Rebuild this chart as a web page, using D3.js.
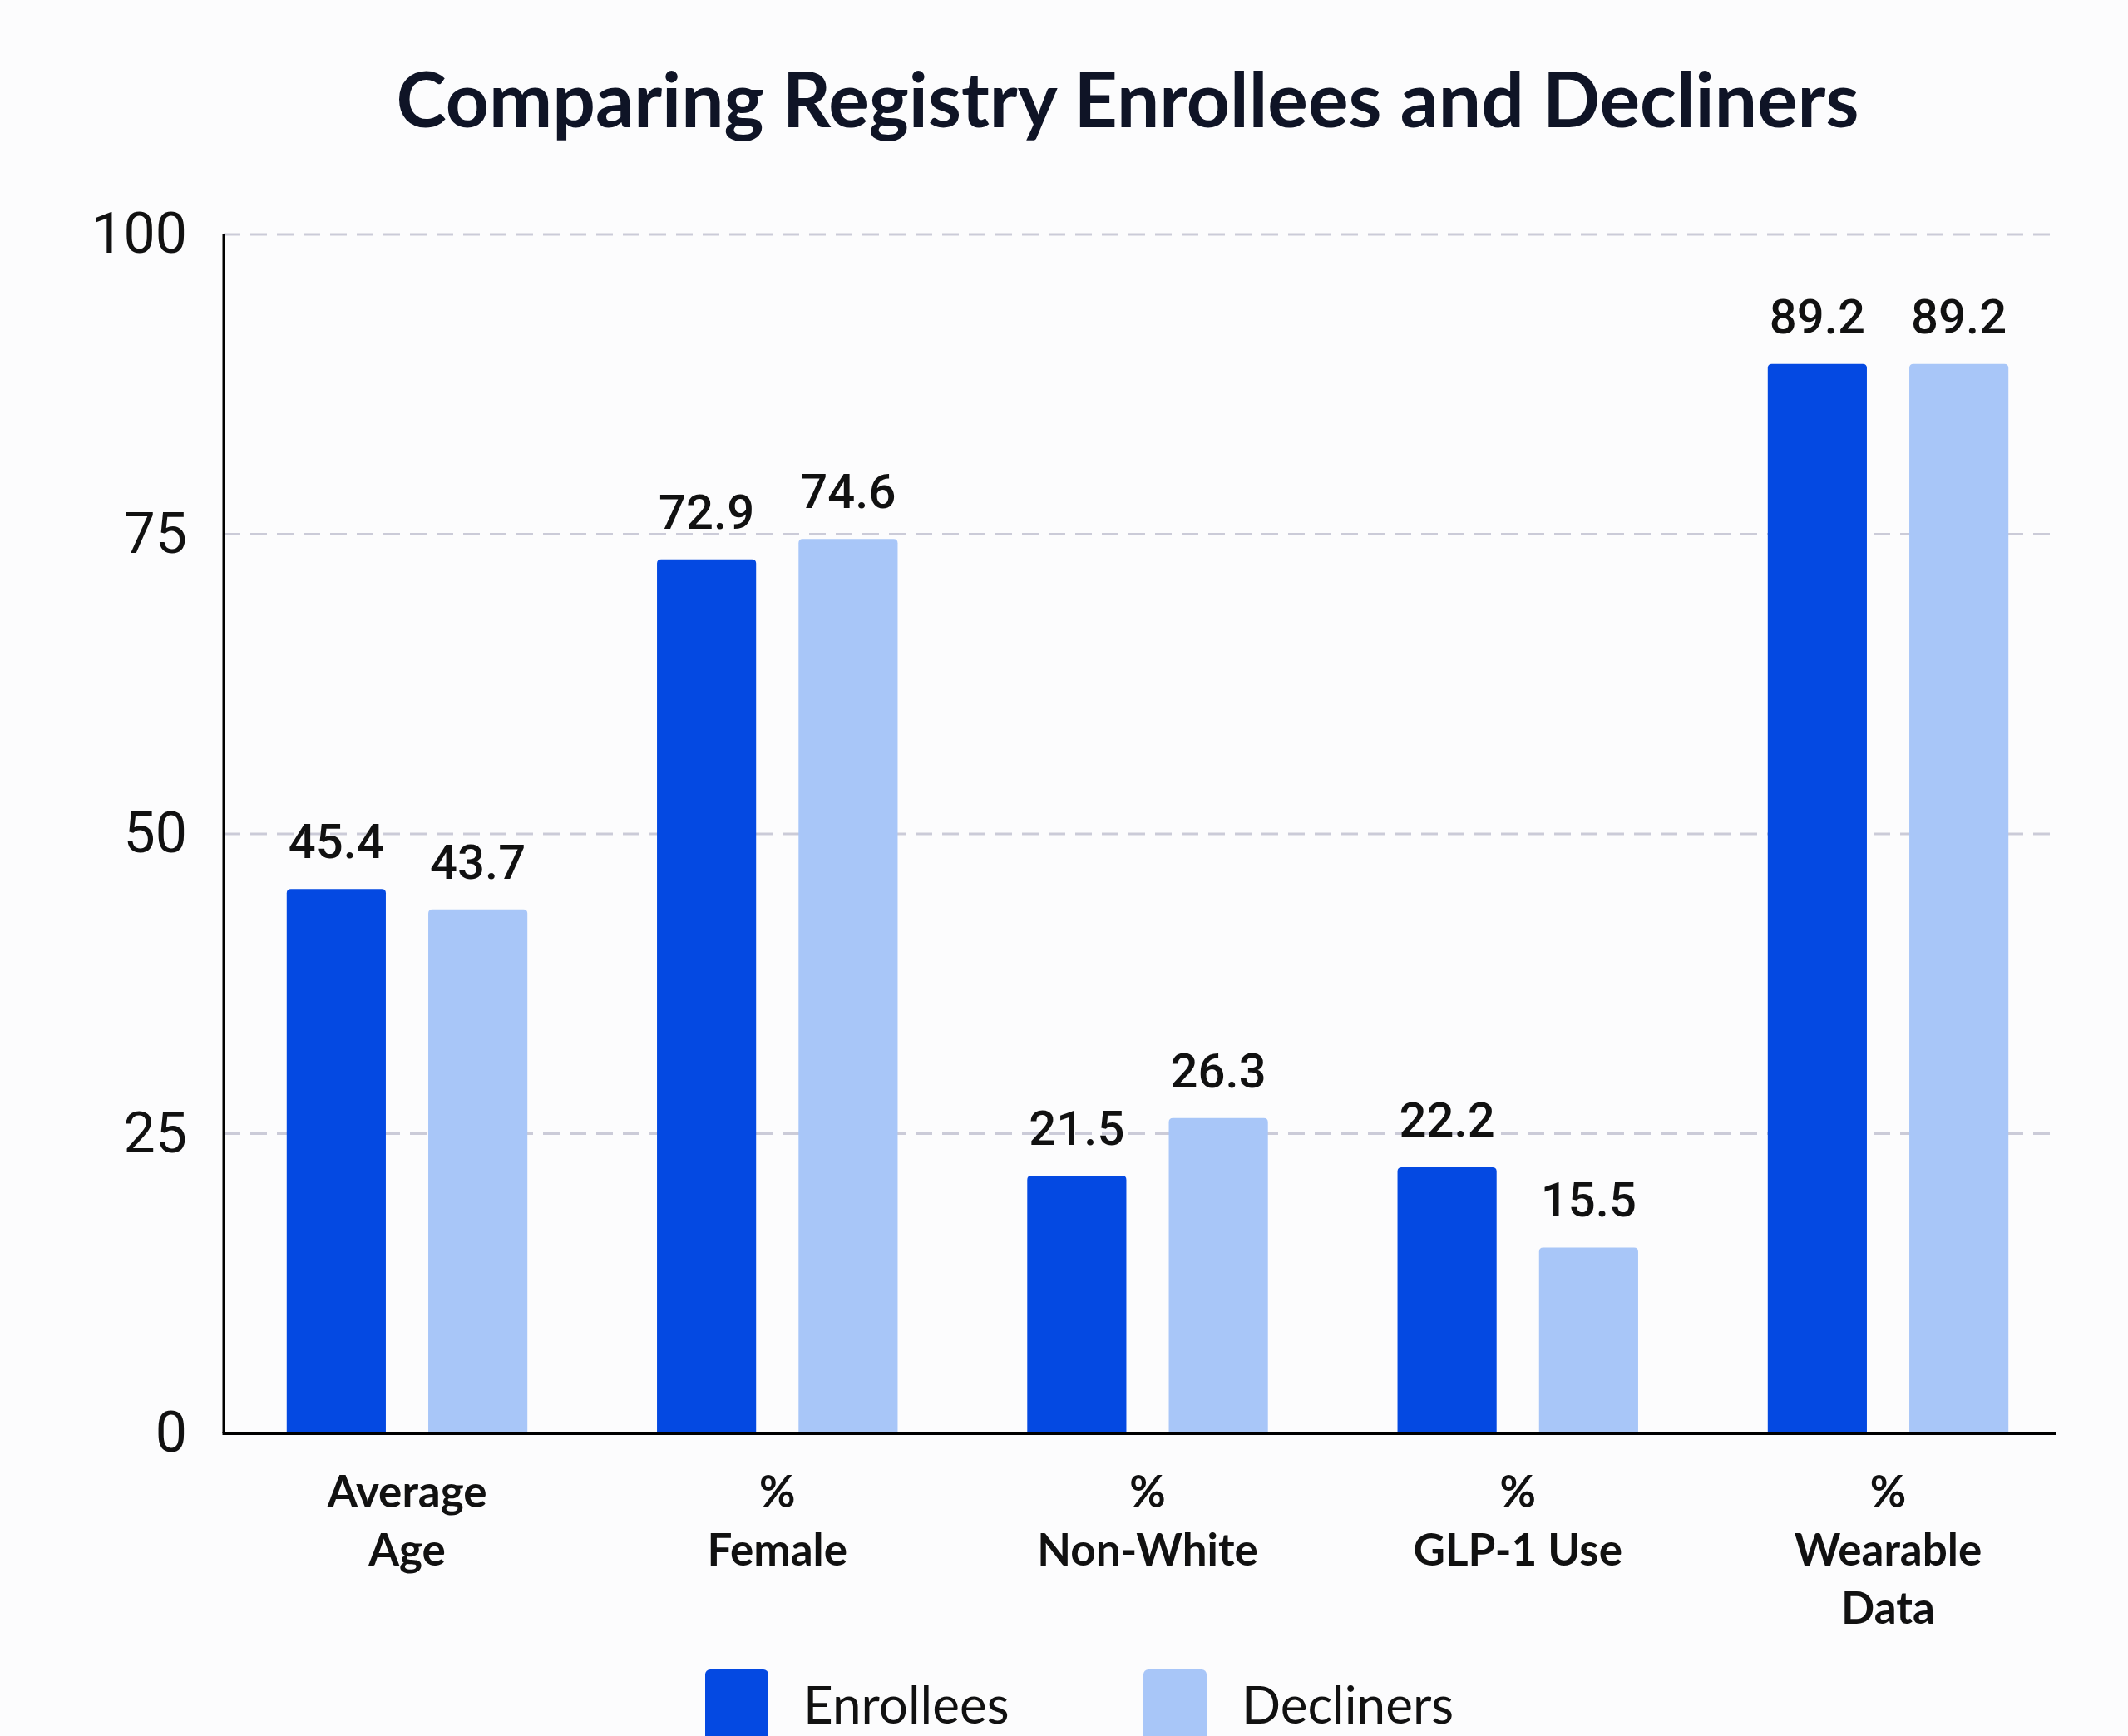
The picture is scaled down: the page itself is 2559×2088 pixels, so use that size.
<!DOCTYPE html>
<html>
<head>
<meta charset="utf-8">
<script src="https://cdn.jsdelivr.net/npm/d3@7"></script>
<style>
  body { margin: 0; background: #fcfcfd; }
  svg { display: block; }
</style>
</head>
<body>
<svg id="chart" width="2559" height="2088"></svg>
<script>
// chart values
var categories = ['Average Age', '% Female', '% Non-White', '% GLP-1 Use', '% Wearable Data'];
var categoryLines = [['Average', 'Age'], ['%', 'Female'], ['%', 'Non-White'], ['%', 'GLP-1 Use'], ['%', 'Wearable', 'Data']];
var seriesNames = ['Enrollees', 'Decliners'];
var enrollees = [45.4, 72.9, 21.5, 22.2, 89.2];
var decliners = [43.7, 74.6, 26.3, 15.5, 89.2];
var yTicks = [0, 25, 50, 75, 100];

var colors = {enrollees: '#0449e2', decliners: '#a8c6f8', grid: '#cbcbd8', ink: '#111111', title: '#0f1426'};

var svg = d3.select('#chart');
var plot = {l: 269, r: 2473, t: 282, b: 1724};

var rows = categories.map(function(c, i) {
    return {cat: c, lines: categoryLines[i], values: [enrollees[i], decliners[i]]};
});

var x0 = d3.scaleBand()
    .domain(categories)
    .range([278, 2482])
    .paddingInner(0.35)
    .paddingOuter(0.15);

var x1 = d3.scaleBand()
    .domain(seriesNames)
    .range([0, x0.bandwidth()])
    .paddingInner(0.3);

var y = d3.scaleLinear()
    .domain([0, 100])
    .range([plot.b, plot.t]);

var color = d3.scaleOrdinal()
    .domain(seriesNames)
    .range([colors.enrollees, colors.decliners]);

svg.append('rect')
    .attr('width', 2559).attr('height', 2088)
    .attr('fill', '#fcfcfd');

// title
svg.append('text')
    .attr('x', 1356)
    .attr('y', 153)
    .attr('text-anchor', 'middle')
    .style('font-family', 'Lato')
    .style('font-weight', 700)
    .style('font-size', '91px')
    .style('fill', colors.title)
    .text('Comparing Registry Enrollees and Decliners');

// gridlines
svg.append('g')
    .selectAll('line')
    .data(yTicks.filter(function(t) { return t > 0; }))
    .enter().append('line')
    .attr('x1', plot.l)
    .attr('x2', plot.r)
    .attr('y1', function(d) { return y(d); })
    .attr('y2', function(d) { return y(d); })
    .attr('stroke', colors.grid)
    .attr('stroke-width', 3)
    .attr('stroke-dasharray', '20,12');

// y axis
var yAxis = svg.append('g')
    .attr('transform', 'translate(' + plot.l + ',0)')
    .call(d3.axisLeft(y).tickValues(yTicks).tickSize(0).tickPadding(44));
yAxis.select('.domain').remove();
yAxis.selectAll('text')
    .style('font-family', 'Roboto')
    .style('font-size', '68px')
    .style('fill', colors.ink);

svg.append('line')
    .attr('x1', plot.l).attr('x2', plot.l)
    .attr('y1', plot.t).attr('y2', plot.b)
    .attr('stroke', '#000')
    .attr('stroke-width', 3);

// bars with rounded top corners
function barPath(x, w, y0, y1, r) {
    return 'M' + x + ',' + y0 +
        'V' + (y1 + r) +
        'Q' + x + ',' + y1 + ' ' + (x + r) + ',' + y1 +
        'H' + (x + w - r) +
        'Q' + (x + w) + ',' + y1 + ' ' + (x + w) + ',' + (y1 + r) +
        'V' + y0 + 'Z';
}

var groups = svg.append('g')
    .selectAll('g')
    .data(rows)
    .enter().append('g')
    .attr('transform', function(d) { return 'translate(' + x0(d.cat) + ',0)'; });

var cells = groups.selectAll('g')
    .data(function(d) {
        return seriesNames.map(function(s, i) { return {series: s, value: d.values[i]}; });
    })
    .enter().append('g');

cells.append('path')
    .attr('d', function(d) {
        return barPath(x1(d.series), x1.bandwidth(), y(0), y(d.value), 5);
    })
    .attr('fill', function(d) { return color(d.series); });

cells.append('text')
    .attr('x', function(d) { return x1(d.series) + x1.bandwidth() / 2; })
    .attr('y', function(d) { return y(d.value) - 37; })
    .attr('text-anchor', 'middle')
    .style('font-family', 'Roboto')
    .style('font-weight', 500)
    .style('font-size', '58px')
    .style('fill', colors.ink)
    .text(function(d) { return d3.format('.1f')(d.value); });

// x baseline
svg.append('line')
    .attr('x1', plot.l - 1.5).attr('x2', plot.r)
    .attr('y1', plot.b).attr('y2', plot.b)
    .attr('stroke', '#000')
    .attr('stroke-width', 4);

// category labels
svg.append('g')
    .selectAll('text')
    .data(rows)
    .enter().append('text')
    .attr('text-anchor', 'middle')
    .style('font-family', 'Lato')
    .style('font-weight', 700)
    .style('font-size', '53px')
    .style('fill', colors.ink)
    .each(function(d) {
        var cx = x0(d.cat) + x0.bandwidth() / 2;
        d3.select(this).selectAll('tspan')
            .data(d.lines)
            .enter().append('tspan')
            .attr('x', cx)
            .attr('y', function(t, i) { return 1813 + i * 70; })
            .text(function(t) { return t; });
    });

// legend
var legendX = [848, 1375];
var legend = svg.append('g')
    .selectAll('g')
    .data(seriesNames)
    .enter().append('g')
    .attr('transform', function(d, i) { return 'translate(' + legendX[i] + ',2008)'; });

legend.append('rect')
    .attr('width', 76)
    .attr('height', 90)
    .attr('rx', 6)
    .attr('fill', function(d) { return color(d); });

legend.append('text')
    .attr('x', 118)
    .attr('y', 65)
    .style('font-family', 'Lato')
    .style('font-size', '62px')
    .style('fill', colors.ink)
    .text(function(d) { return d; });
</script>
</body>
</html>
